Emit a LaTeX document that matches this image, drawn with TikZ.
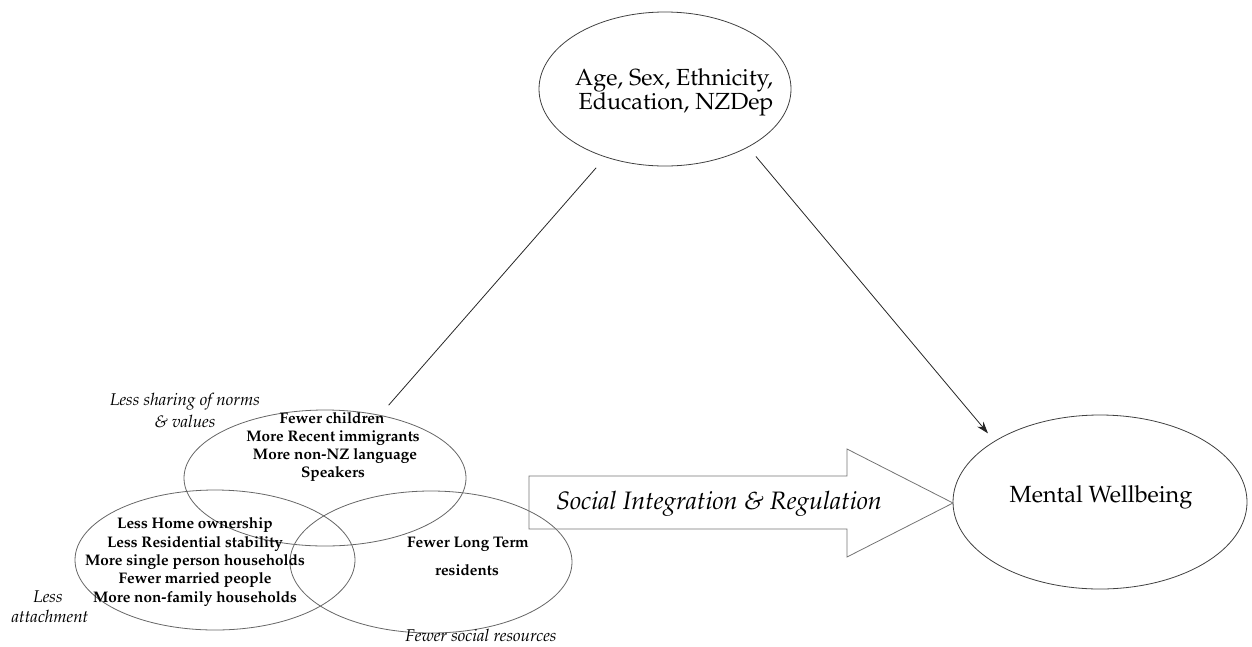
\documentclass[tikz,border=0pt]{standalone}
\usepackage[T1]{fontenc}
\usepackage{mathpazo}
\usetikzlibrary{shapes.geometric,arrows.meta}
\tikzset{
  bigell/.style={draw=black!75, line width=0.8pt, ellipse, inner sep=0pt},
  venn/.style={draw=black!60, line width=0.8pt, ellipse, inner sep=0pt},
  lbl/.style={anchor=base, inner sep=0pt, font=\fontsize{15.3}{18}\selectfont\bfseries},
  ilbl/.style={anchor=base, inner sep=0pt, font=\fontsize{17}{19}\selectfont\itshape},
  biglbl/.style={anchor=base, inner sep=0pt},
  conn/.style={line width=0.8pt, black!85},
}
\begin{document}
\begin{tikzpicture}[x=1pt,y=-1pt]
\useasboundingbox (0,0) rectangle (1252,646);
% main ellipses
\node[bigell, minimum width=252pt, minimum height=154pt] (top) at (665,89) {};
\node[bigell, minimum width=294pt, minimum height=174pt] (mw) at (1100,502) {};
% venn ellipses
\node[venn, minimum width=282pt, minimum height=136pt] (A) at (325,478) {};
\node[venn, minimum width=280pt, minimum height=140pt] (B) at (215,560) {};
\node[venn, minimum width=282pt, minimum height=142pt] (C) at (431,562) {};
% texts in main ellipses
\node[biglbl, font=\fontsize{23.3}{28}\selectfont] (t1) at (674,85) {Age, Sex, Ethnicity,};
\node[biglbl, font=\fontsize{23.3}{28}\selectfont] (t2) at (676,109) {Education, NZDep};
\node[biglbl, font=\fontsize{23.4}{26}\selectfont] (m1) at (1101,502) {Mental Wellbeing};
% big arrow
\draw[line width=0.8pt, draw=black!55] (529,476) -- (847,476) -- (847,449) -- (953,503) -- (847,557) -- (847,529) -- (529,529) -- cycle;
\node[biglbl, font=\fontsize{25.2}{28}\selectfont\itshape] (sir) at (719,509) {Social Integration \& Regulation};
% texts in ellipse A
\node[lbl] (a1) at (332,423) {Fewer children};
\node[lbl] (a2) at (333,441) {More Recent immigrants};
\node[lbl] (a3) at (335,459) {More non-NZ language};
\node[lbl] (a4) at (333,477) {Speakers};
% texts in ellipse B
\node[lbl] (b1) at (195,528) {Less Home ownership};
\node[lbl] (b2) at (195,547) {Less Residential stability};
\node[lbl] (b3) at (195,565) {More single person households};
\node[lbl] (b4) at (195,583) {Fewer married people};
\node[lbl] (b5) at (195,602) {More non-family households};
% texts in ellipse C
\node[lbl] (c1) at (468,547) {Fewer Long Term};
\node[lbl] (c2) at (467,575) {residents};
% italic labels
\node[ilbl] (n1) at (185,405) {Less sharing of norms};
\node[ilbl] (n2) at (185,427) {\& values};
\node[ilbl] (l1) at (48,602) {Less};
\node[ilbl] (l2) at (50,622) {attachment};
\node[ilbl] (r1) at (481,641) {Fewer social resources};
% connectors
\draw[conn, shorten <=14pt, shorten >=13pt] (top) -- (A);
\draw[conn, -{Stealth[length=12pt,width=8pt]}, shorten <=12pt, shorten >=10pt] (top.-35) -- (mw.150.5);
\end{tikzpicture}
\end{document}
